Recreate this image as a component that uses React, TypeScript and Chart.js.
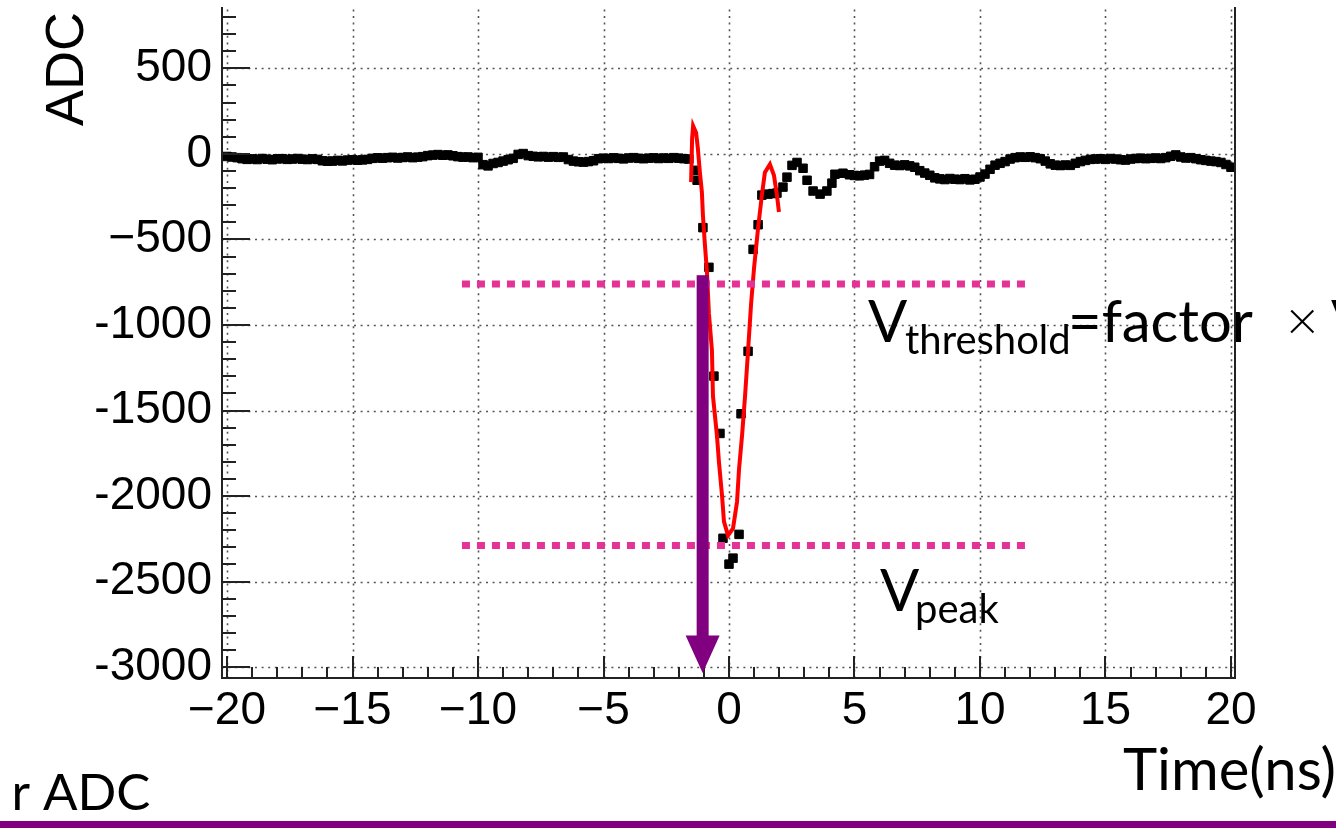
import React, { useEffect, useRef } from 'react';
import { Chart, registerables } from 'chart.js';

Chart.register(...registerables);

// ---------- data ----------
const xTickValues = [-20, -15, -10, -5, 0, 5, 10, 15, 20];
const xTickLabels = ['−20', '−15', '−10', '−5', '0', '5', '10', '15', '20'];
const yTickValues = [-3000, -2500, -2000, -1500, -1000, -500, 0, 500];
const yTickLabels = ['-3000', '-2500', '-2000', '-1500', '-1000', '−500', '0', '500'];

const sampleTimes = [
  -20.0, -19.8, -19.6, -19.4, -19.2, -19.0, -18.8, -18.6, -18.4, -18.2, -18.0, -17.8, -17.6, -17.4, -17.2, -17.0,
  -16.8, -16.6, -16.4, -16.2, -16.0, -15.8, -15.6, -15.4, -15.2, -15.0, -14.8, -14.6, -14.4, -14.2, -14.0, -13.8,
  -13.6, -13.4, -13.2, -13.0, -12.8, -12.6, -12.4, -12.2, -12.0, -11.8, -11.6, -11.4, -11.2, -11.0, -10.8, -10.6,
  -10.4, -10.2, -10.0, -9.8, -9.6, -9.4, -9.2, -9.0, -8.8, -8.6, -8.4, -8.2, -8.0, -7.8, -7.6, -7.4, -7.2, -7.0,
  -6.8, -6.6, -6.4, -6.2, -6.0, -5.8, -5.6, -5.4, -5.2, -5.0, -4.8, -4.6, -4.4, -4.2, -4.0, -3.8, -3.6, -3.4,
  -3.2, -3.0, -2.8, -2.6, -2.4, -2.2, -2.0, -1.8, -1.6,
  -1.35, -1.27, -1.04, -0.8, -0.6, -0.36, -0.24, 0.0, 0.16, 0.4, 0.48, 0.76, 0.96, 1.16, 1.31, 1.55, 1.75, 1.91,
  2.15, 2.31, 2.51, 2.71, 2.95, 3.11, 3.35, 3.63, 3.9, 4.1, 4.22, 4.54,
  4.8, 5.0, 5.2, 5.4, 5.6, 5.8, 6.0, 6.2, 6.4, 6.6, 6.8, 7.0, 7.2, 7.4, 7.6, 7.8, 8.0, 8.2, 8.4, 8.6, 8.8, 9.0,
  9.2, 9.4, 9.6, 9.8, 10.0, 10.2, 10.4, 10.6, 10.8, 11.0, 11.2, 11.4, 11.6, 11.8, 12.0, 12.2, 12.4, 12.6, 12.8,
  13.0, 13.2, 13.4, 13.6, 13.8, 14.0, 14.2, 14.4, 14.6, 14.8, 15.0, 15.2, 15.4, 15.6, 15.8, 16.0, 16.2, 16.4,
  16.6, 16.8, 17.0, 17.2, 17.4, 17.6, 17.8, 18.0, 18.2, 18.4, 18.6, 18.8, 19.0, 19.2, 19.4, 19.6, 19.8, 20.0,
];

const sampleAdc = [
  -15, -18, -22, -28, -32, -29, -33, -27, -31, -34, -29, -28, -32, -30, -27, -31,
  -33, -29, -32, -40, -43, -42, -38, -41, -36, -34, -37, -35, -32, -26, -23, -25,
  -22, -20, -24, -21, -18, -22, -19, -16, -10, -7, -4, -8, -6, -11, -16, -19,
  -18, -22, -20, -63, -70, -56, -50, -42, -34, -26, -3, 2, -10, -14, -17, -15, -19, -16,
  -20, -18, -33, -42, -46, -48, -45, -40, -28, -25, -27, -23, -26, -29, -24, -22, -26, -28,
  -25, -23, -27, -24, -26, -22, -25, -28, -30,
  -96, -154, -431, -663, -1299, -1634, -2247, -2398, -2363, -2224, -1519, -1154, -558, -414, -241, -235, -232, -229,
  -194, -136, -67, -50, -84, -154, -217, -235, -217, -171, -119, -113,
  -122, -126, -128, -124, -120, -75, -42, -38, -55, -66, -68, -64, -70, -78, -98, -112, -125, -140, -146, -150, -144, -148,
  -150, -145, -152, -148, -135, -118, -90, -66, -55, -45, -30, -22, -18, -20, -17, -22, -28, -42, -58,
  -66, -68, -65, -67, -55, -45, -38, -32, -30, -28, -32, -27, -30, -34, -36, -30, -27, -25,
  -28, -26, -24, -27, -22, -14, -6, -18, -24, -22, -28, -34, -38, -42, -45, -50, -62, -78,
];

const fitTimes = [
  -1.51, -1.47, -1.43, -1.31, -1.24, -1.16, -1.08, -1.04, -0.96, -0.88, -0.8, -0.68, -0.64, -0.48, -0.4, -0.28,
  -0.2, -0.04, 0.16, 0.32, 0.4, 0.52, 0.64, 0.76, 0.88, 1.0, 1.16, 1.31, 1.43, 1.63, 1.79, 1.91, 1.99,
];
const fitAdc = [
  -165, 89, 164, 124, 31, -108, -223, -356, -530, -686, -934, -1148, -1414, -1646, -1802, -1993,
  -2149, -2230, -2189, -2033, -1842, -1646, -1414, -1148, -876, -663, -431, -241, -108, -61, -125, -241, -339,
];

const markerSpan = [-10.64, 12.0];
const thresholdLevel = -761;
const peakLevel = -2289;
const arrowTime = -1.05;
const arrowStart = -709;
const arrowHeadBase = -2815;
const arrowTip = -3035;

const X_MIN = -20.2;
const X_MAX = 20.16;
const Y_MIN = -3063.6;
const Y_MAX = 858.7;

const PINK = '#E33397';
const PURPLE = '#800080';
const AXIS_FONT = "'Liberation Sans', Arial, Helvetica, sans-serif";
const NOTE_FONT = "Lato, 'Open Sans', sans-serif";

const decor = {
  id: 'decor',
  beforeDraw(chart: any) {
    const ctx = chart.ctx;
    ctx.save();
    ctx.fillStyle = '#ffffff';
    ctx.fillRect(0, 0, chart.width, chart.height);
    ctx.restore();
  },
  beforeDatasetsDraw(chart: any) {
    const { ctx, chartArea } = chart;
    const xs = chart.scales.x;
    const ys = chart.scales.y;
    ctx.save();
    ctx.strokeStyle = '#555555';
    ctx.lineWidth = 1.6;
    ctx.setLineDash([2, 4.6]);
    for (const v of xTickValues) {
      const px = Math.round(xs.getPixelForValue(v)) + 0.5;
      ctx.beginPath();
      ctx.moveTo(px, chartArea.bottom);
      ctx.lineTo(px, chartArea.top);
      ctx.stroke();
    }
    for (const v of yTickValues) {
      const py = Math.round(ys.getPixelForValue(v)) + 0.5;
      ctx.beginPath();
      ctx.moveTo(chartArea.left, py);
      ctx.lineTo(chartArea.right, py);
      ctx.stroke();
    }
    ctx.restore();
  },
  afterDatasetsDraw(chart: any) {
    const { ctx, chartArea } = chart;
    const xs = chart.scales.x;
    const ys = chart.scales.y;
    ctx.save();
    // frame
    ctx.strokeStyle = '#222222';
    ctx.lineWidth = 2;
    ctx.beginPath();
    ctx.moveTo(chartArea.left, chartArea.top);
    ctx.lineTo(chartArea.left, chartArea.bottom);
    ctx.lineTo(chartArea.right, chartArea.bottom);
    ctx.lineTo(chartArea.right, chartArea.top);
    ctx.stroke();
    // y ticks
    ctx.lineWidth = 2;
    for (let v = -3000; v <= 800; v += 100) {
      const py = Math.round(ys.getPixelForValue(v));
      const major = v % 500 === 0;
      ctx.beginPath();
      ctx.moveTo(chartArea.left, py);
      ctx.lineTo(chartArea.left + (major ? 28 : 14), py);
      ctx.stroke();
    }
    // x ticks
    for (let v = -20; v <= 20; v += 1) {
      const px = Math.round(xs.getPixelForValue(v));
      const major = v % 5 === 0;
      ctx.beginPath();
      ctx.moveTo(px, chartArea.bottom);
      ctx.lineTo(px, chartArea.bottom - (major ? 22 : 11));
      ctx.stroke();
    }
    // arrow
    const ax = xs.getPixelForValue(arrowTime);
    const yTop = ys.getPixelForValue(arrowStart);
    const yBase = ys.getPixelForValue(arrowHeadBase);
    const yTip = ys.getPixelForValue(arrowTip);
    ctx.fillStyle = PURPLE;
    ctx.fillRect(ax - 6, yTop, 12, yBase - yTop + 1);
    ctx.beginPath();
    ctx.moveTo(ax - 17, yBase);
    ctx.lineTo(ax + 17, yBase);
    ctx.lineTo(ax, yTip);
    ctx.closePath();
    ctx.fill();
    ctx.restore();
  },
  afterDraw(chart: any) {
    const ctx = chart.ctx;
    ctx.save();
    // y title
    ctx.fillStyle = '#000000';
    ctx.font = `54px ${AXIS_FONT}`;
    ctx.textAlign = 'center';
    ctx.textBaseline = 'alphabetic';
    ctx.save();
    ctx.translate(83, 69);
    ctx.rotate(-Math.PI / 2);
    ctx.fillText('ADC', 0, 0);
    ctx.restore();

    ctx.textAlign = 'left';
    // V_threshold = factor x V
    ctx.font = `58px ${NOTE_FONT}`;
    ctx.fillText('V', 868, 342);
    ctx.font = `40px ${NOTE_FONT}`;
    ctx.fillText('threshold', 905, 354);
    ctx.font = `58px ${NOTE_FONT}`;
    ctx.fillText('=factor', 1068, 342);
    ctx.font = `300 56px ${NOTE_FONT}`;
    ctx.fillText('×', 1286, 340);
    ctx.font = `58px ${NOTE_FONT}`;
    ctx.fillText('V', 1331, 342);
    // V_peak
    ctx.fillText('V', 880, 611);
    ctx.font = `40px ${NOTE_FONT}`;
    ctx.fillText('peak', 915, 623);
    // x title
    ctx.font = `58px ${NOTE_FONT}`;
    ctx.fillText('Time(ns)', 1123, 790);
    // slide text
    ctx.font = `51px ${NOTE_FONT}`;
    const w = ctx.measureText('r ').width;
    ctx.fillText('r ADC', 43 - w, 810);
    // bottom bar
    ctx.fillStyle = PURPLE;
    ctx.fillRect(0, 821, chart.width, 7);
    ctx.restore();
  },
};

export default function App() {
  const ref = useRef<HTMLCanvasElement | null>(null);
  useEffect(() => {
    if (!ref.current) return;
    const chart = new Chart(ref.current, {
      type: 'scatter',
      data: {
        datasets: [
          {
            type: 'line',
            label: 'threshold',
            data: markerSpan.map((t) => ({ x: t, y: thresholdLevel })),
            borderColor: PINK,
            borderWidth: 7,
            borderDash: [8, 7],
            borderCapStyle: 'butt',
            pointRadius: 0,
            order: 0,
          },
          {
            type: 'line',
            label: 'peak',
            data: markerSpan.map((t) => ({ x: t, y: peakLevel })),
            borderColor: PINK,
            borderWidth: 7,
            borderDash: [8, 7],
            borderCapStyle: 'butt',
            pointRadius: 0,
            order: 0,
          },
          {
            type: 'line',
            label: 'fit',
            data: fitTimes.map((t, i) => ({ x: t, y: fitAdc[i] })),
            borderColor: '#ff0000',
            borderWidth: 4,
            pointRadius: 0,
            tension: 0,
            order: 1,
          },
          {
            type: 'scatter',
            label: 'ADC',
            data: sampleTimes.map((t, i) => ({ x: t, y: sampleAdc[i] })),
            pointStyle: 'rect',
            pointRadius: 6,
            backgroundColor: '#000000',
            borderColor: '#000000',
            borderWidth: 1,
            order: 2,
          },
        ],
      } as any,
      options: {
        responsive: false,
        maintainAspectRatio: false,
        devicePixelRatio: 1,
        animation: false,
        events: [],
        layout: { padding: { left: 0, right: 101, top: 0, bottom: 0 } },
        plugins: { legend: { display: false }, tooltip: { enabled: false }, title: { display: false } },
        scales: {
          x: {
            type: 'linear',
            position: 'bottom',
            min: X_MIN,
            max: X_MAX,
            afterBuildTicks: (s: any) => {
              s.ticks = xTickValues.map((v) => ({ value: v }));
            },
            ticks: {
              autoSkip: false,
              maxRotation: 0,
              minRotation: 0,
              padding: 6,
              color: '#000000',
              font: { family: AXIS_FONT, size: 46 },
              callback: (v: any) => {
                const i = xTickValues.indexOf(Number(v));
                return i >= 0 ? xTickLabels[i] : '';
              },
            },
            grid: { display: false, drawTicks: false },
            border: { display: false },
            afterFit: (s: any) => {
              s.height = 150;
              s.paddingLeft = 0;
              s.paddingRight = 0;
              s.paddingTop = 0;
              s.paddingBottom = 0;
            },
          },
          y: {
            type: 'linear',
            min: Y_MIN,
            max: Y_MAX,
            afterBuildTicks: (s: any) => {
              s.ticks = yTickValues.map((v) => ({ value: v }));
            },
            ticks: {
              autoSkip: false,
              padding: 10,
              color: '#000000',
              font: { family: AXIS_FONT, size: 46 },
              callback: (v: any) => {
                const i = yTickValues.indexOf(Number(v));
                return i >= 0 ? yTickLabels[i] : '';
              },
            },
            grid: { display: false, drawTicks: false },
            border: { display: false },
            afterFit: (s: any) => {
              s.width = 222;
              s.paddingLeft = 0;
              s.paddingRight = 0;
              s.paddingTop = 0;
              s.paddingBottom = 0;
            },
          },
        },
      } as any,
      plugins: [decor],
    });
    return () => chart.destroy();
  }, []);

  return (
    <div style={{ position: 'absolute', left: 0, top: 0, width: 1336, height: 828, background: '#ffffff', overflow: 'hidden' }}>
      <canvas ref={ref} width={1336} height={828} style={{ display: 'block', width: 1336, height: 828 }} />
    </div>
  );
}
